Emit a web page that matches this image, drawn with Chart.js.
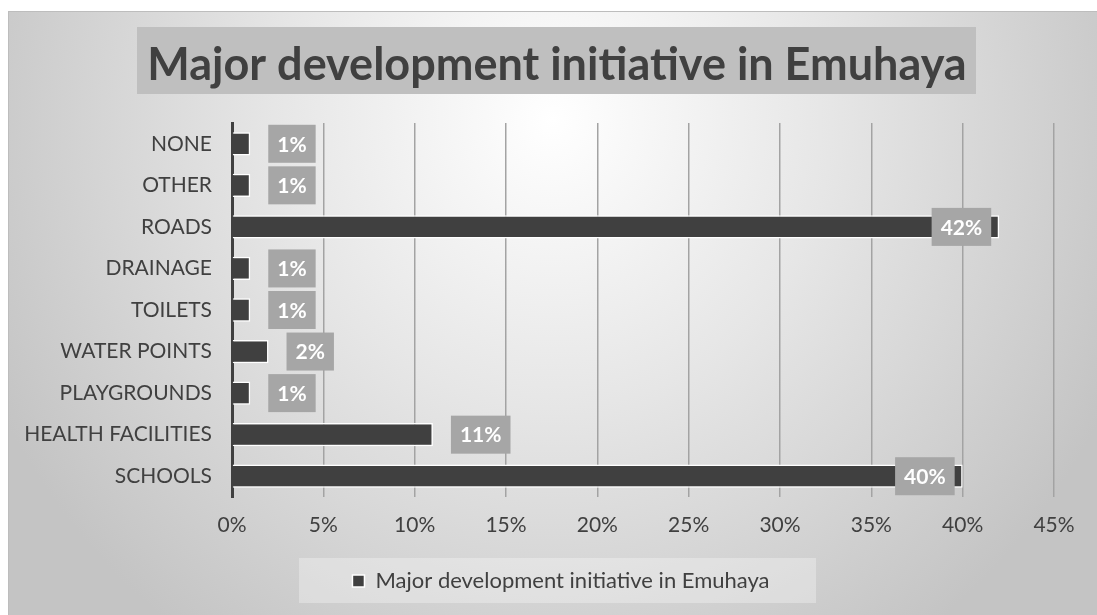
<!DOCTYPE html>
<html>
<head>
<meta charset="utf-8">
<script src="https://cdn.jsdelivr.net/npm/chart.js@4.4.0/dist/chart.umd.min.js"></script>
<style>
  body { margin: 0; background: #ffffff; width: 1097px; height: 615px; overflow: hidden; }
  #wrap {
    position: absolute; left: 8px; top: 11px; width: 1089px; height: 604px;
    background: radial-gradient(ellipse 620px 640px at 50% 18%, #ffffff 0%, #e6e6e6 45%, #c4c4c4 100%);
    box-shadow: inset 1px 1px 0 #bdbdbd;
  }
  canvas { display: block; }
</style>
</head>
<body>
<div id="wrap"><canvas id="chart" width="1089" height="604"></canvas></div>
<script>
// Survey results: share of respondents per initiative (%)
const chartTitle = 'Major development initiative in Emuhaya';
const categories = ['NONE', 'OTHER', 'ROADS', 'DRAINAGE', 'TOILETS', 'WATER POINTS', 'PLAYGROUNDS', 'HEALTH FACILITIES', 'SCHOOLS'];
const shares = [1, 1, 42, 1, 1, 2, 1, 11, 40];
const xTicks = [0, 5, 10, 15, 20, 25, 30, 35, 40, 45];

const FONT = 'Lato, "Open Sans", sans-serif';
const TEXT = '#404040';

// Title drawn on a grey band
const titleBand = {
  id: 'titleBand',
  beforeDraw(chart) {
    const ctx = chart.ctx;
    ctx.save();
    ctx.fillStyle = '#bfbfbf';
    ctx.fillRect(129, 16, 839, 67);
    ctx.fillStyle = TEXT;
    ctx.font = 'bold 45px ' + FONT;
    ctx.textAlign = 'center';
    ctx.textBaseline = 'middle';
    ctx.fillText(chartTitle, 549, 54);
    ctx.restore();
  }
};

// Legend sits a little right of centre, on a lighter panel
const legendPanel = {
  id: 'legendPanel',
  afterLayout(chart) {
    const lg = chart.legend;
    lg.left += 30;
    lg.right += 30;
  },
  beforeDraw(chart) {
    const lg = chart.legend;
    const cx = (lg.left + lg.right) / 2 - 4;
    const ctx = chart.ctx;
    ctx.save();
    ctx.fillStyle = 'rgba(255,255,255,0.3)';
    ctx.fillRect(cx - 258, lg.top - 2, 517, 45);
    ctx.restore();
  }
};

// Value labels in grey boxes
const valueBoxes = {
  id: 'valueBoxes',
  afterDatasetsDraw(chart) {
    const ctx = chart.ctx;
    const meta = chart.getDatasetMeta(0);
    ctx.save();
    ctx.font = 'bold 21px ' + FONT;
    ctx.textAlign = 'center';
    ctx.textBaseline = 'middle';
    meta.data.forEach((bar, i) => {
      const v = shares[i];
      const txt = v + '%';
      const w = ctx.measureText(txt).width + 18;
      const h = 38;
      let left;
      if (v >= 20) left = bar.x - 8 - w;
      else left = bar.x + 18;
      ctx.fillStyle = '#a6a6a6';
      ctx.fillRect(left, bar.y - h / 2, w, h);
      ctx.fillStyle = '#ffffff';
      ctx.fillText(txt, left + w / 2, bar.y + 1);
    });
    ctx.restore();
  }
};

new Chart(document.getElementById('chart'), {
  type: 'bar',
  data: {
    labels: categories,
    datasets: [{
      label: chartTitle,
      data: shares,
      backgroundColor: '#404040',
      borderColor: '#ffffff',
      borderWidth: 1.5,
      barPercentage: 0.56,
      categoryPercentage: 1
    }]
  },
  options: {
    indexAxis: 'y',
    responsive: false,
    animation: false,
    devicePixelRatio: 1,
    layout: { padding: { top: 112, left: 0, right: 43, bottom: 13 } },
    plugins: {
      title: { display: false },
      tooltip: { enabled: false },
      legend: {
        position: 'bottom',
        labels: {
          color: TEXT,
          font: { family: FONT, size: 22 },
          boxWidth: 12,
          boxHeight: 12,
          padding: 10
        }
      }
    },
    scales: {
      x: {
        min: 0,
        max: 45,
        afterBuildTicks(scale) { scale.ticks = xTicks.map(v => ({ value: v })); },
        afterFit(scale) { scale.height = 63; },
        grid: { color: '#a3a3a3', lineWidth: 1.5, drawTicks: false },
        border: { display: false },
        ticks: {
          color: TEXT,
          font: { family: FONT, size: 21 },
          padding: 16,
          callback: v => v + '%'
        }
      },
      y: {
        afterFit(scale) { scale.width = 224; },
        grid: { display: false, drawTicks: false },
        border: { display: true, color: TEXT, width: 3 },
        ticks: {
          color: TEXT,
          font: { family: FONT, size: 21 },
          padding: 20
        }
      }
    }
  },
  plugins: [titleBand, legendPanel, valueBoxes]
});
</script>
</body>
</html>
